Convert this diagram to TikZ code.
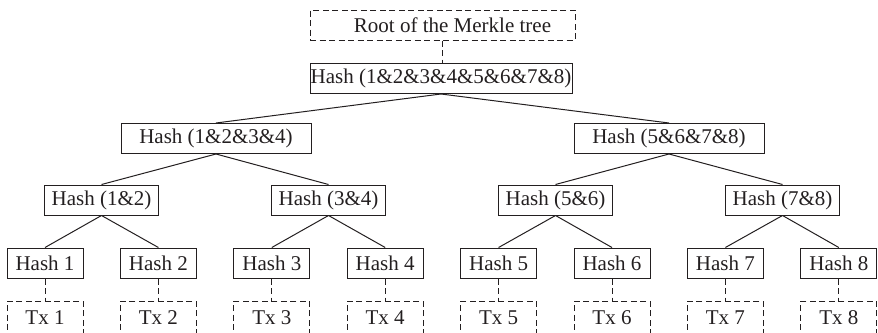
\documentclass[tikz,border=0pt]{standalone}
\usepackage{fontspec}
\setmainfont{Liberation Serif}
\definecolor{ink}{RGB}{35,31,32}
\tikzset{
  hbox/.style={draw=ink, line width=1pt, text=ink, inner sep=0pt,
    minimum height=30pt, font=\fontsize{21}{24}\selectfont},
  dbox/.style={hbox, dash pattern=on 6pt off 3.5pt},
  link/.style={draw=ink, line width=1pt},
  dlink/.style={link, dash pattern=on 6pt off 3.5pt},
  leafw/.style={minimum width=76pt},
  pairw/.style={minimum width=114pt},
  quadw/.style={minimum width=190pt},
}
\begin{document}
\begin{tikzpicture}[x=1pt, y=-1pt]
  \useasboundingbox (0,0) rectangle (878,332);

  % root label and the top hash
  \node[dbox, minimum width=265pt] (root) at (442.5,25) {\hspace*{20pt}Root of the Merkle tree};
  \node[hbox, minimum width=262pt] (h0) at (441,78.5) {Hash (1\&2\&3\&4\&5\&6\&7\&8)};

  % second level
  \node[hbox, quadw] (h14) at (216,138.5) {Hash (1\&2\&3\&4)};
  \node[hbox, quadw] (h58) at (669,138.5) {Hash (5\&6\&7\&8)};

  % third level
  \node[hbox, pairw] (h12) at (101.5,200) {Hash (1\&2)};
  \node[hbox, pairw] (h34) at (328.5,200) {Hash (3\&4)};
  \node[hbox, pairw] (h56) at (555.5,200) {Hash (5\&6)};
  \node[hbox, pairw] (h78) at (782.5,200) {Hash (7\&8)};

  % leaf hashes and transactions
  \foreach \i in {1,...,8} {
    \pgfmathsetmacro{\cx}{45+113.4*(\i-1)}
    \node[hbox, leafw] (l\i) at (\cx,263) {Hash \i};
    \node[dbox, leafw, minimum height=34pt] (t\i) at (\cx,318) {Tx \i};
    \draw[dlink] (l\i.south) -- (t\i.north);
  }

  \draw[dlink] (root.south) -- (root.south |- h0.north);

  \draw[link] (h0.south) -- (h14.north);
  \draw[link] (h0.south) -- (h58.north);
  \draw[link] (h14.south) -- (h12.north);
  \draw[link] (h14.south) -- (h34.north);
  \draw[link] (h58.south) -- (h56.north);
  \draw[link] (h58.south) -- (h78.north);
  \draw[link] (h12.south) -- (l1.north);
  \draw[link] (h12.south) -- (l2.north);
  \draw[link] (h34.south) -- (l3.north);
  \draw[link] (h34.south) -- (l4.north);
  \draw[link] (h56.south) -- (l5.north);
  \draw[link] (h56.south) -- (l6.north);
  \draw[link] (h78.south) -- (l7.north);
  \draw[link] (h78.south) -- (l8.north);
\end{tikzpicture}
\end{document}
